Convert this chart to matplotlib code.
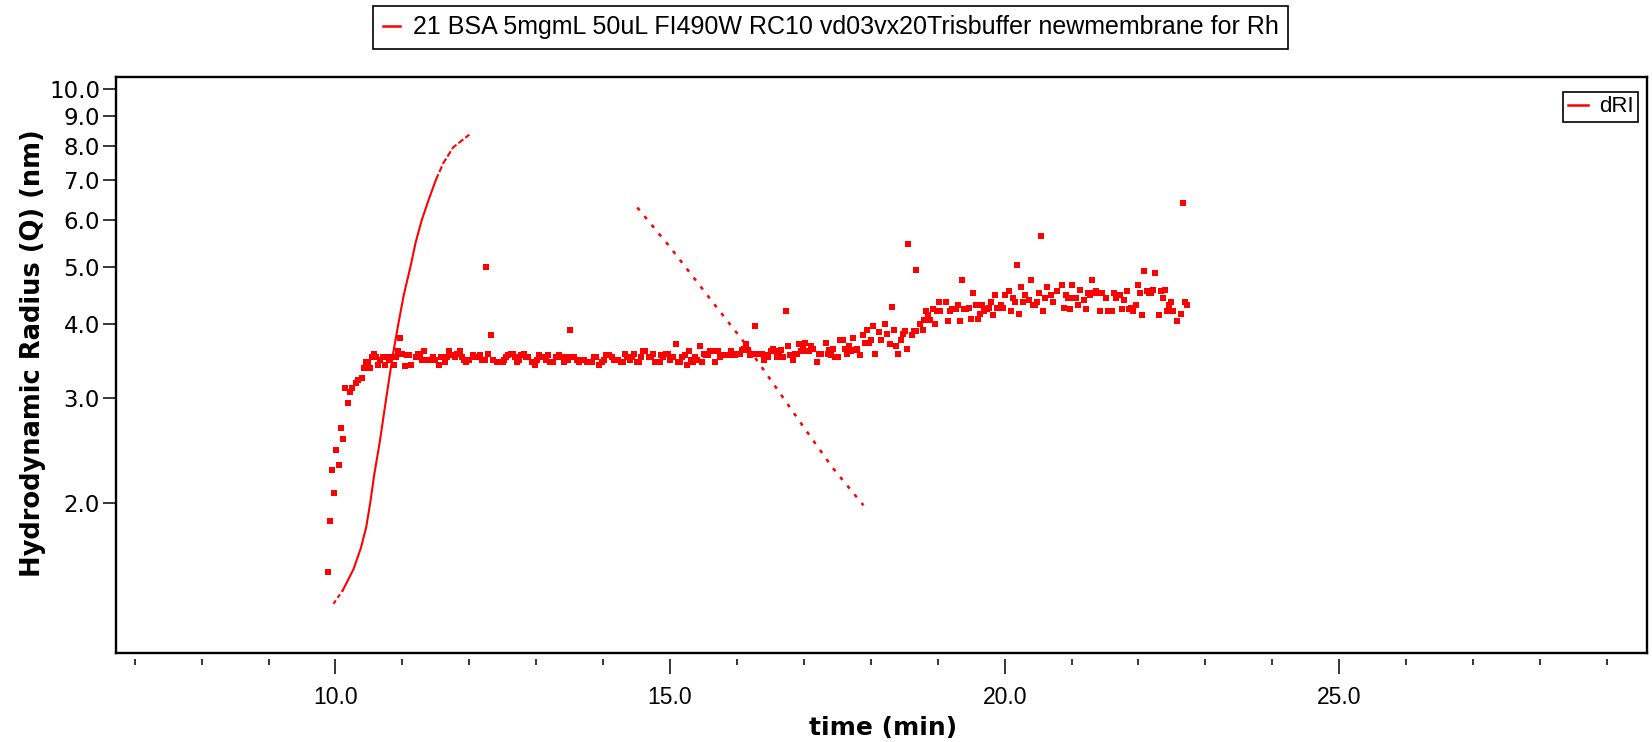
import matplotlib
matplotlib.use("Agg")
import matplotlib.pyplot as plt
from matplotlib.lines import Line2D
from matplotlib.ticker import MultipleLocator, NullLocator, FixedLocator

# Rh (hydrodynamic radius) scatter: time (min), radius (nm)
rh_time = [
    9.89, 9.92, 9.95, 9.98, 10.01, 10.06, 10.09, 10.12, 10.15, 10.18, 10.22, 10.25, 10.31, 10.34,
    10.39, 10.42, 10.45, 10.48, 10.51, 10.55, 10.58, 10.61, 10.64, 10.67, 10.71, 10.74, 10.77, 10.80,
    10.83, 10.88, 10.91, 10.94, 10.97, 11.00, 11.04, 11.07, 11.10, 11.13, 11.21, 11.24, 11.27, 11.30,
    11.33, 11.36, 11.42, 11.46, 11.49, 11.54, 11.57, 11.63, 11.66, 11.70, 11.73, 11.78, 11.82,
    11.86, 11.89, 11.92, 11.95, 11.99, 12.06, 12.09, 12.12, 12.16, 12.19, 12.23, 12.25, 12.28, 12.32,
    12.36, 12.41, 12.45, 12.50, 12.52, 12.55, 12.58, 12.62, 12.66, 12.69, 12.72, 12.75, 12.78, 12.82,
    12.85, 12.88, 12.94, 12.98, 13.01, 13.04, 13.08, 13.11, 13.15, 13.18, 13.21, 13.25, 13.30, 13.34,
    13.38, 13.41, 13.44, 13.48, 13.51, 13.54, 13.57, 13.61, 13.64, 13.68, 13.72, 13.76, 13.80, 13.84,
    13.87, 13.90, 13.94, 13.98, 14.02, 14.05, 14.09, 14.13, 14.16, 14.19, 14.22, 14.26, 14.30, 14.33,
    14.36, 14.40, 14.43, 14.46, 14.50, 14.53, 14.57, 14.60, 14.63, 14.68, 14.71, 14.74, 14.78, 14.81,
    14.85, 14.86, 14.90, 14.94, 14.97, 15.00, 15.04, 15.09, 15.12, 15.15, 15.18, 15.22, 15.25, 15.28,
    15.31, 15.34, 15.37, 15.40, 15.45, 15.48, 15.51, 15.54, 15.57, 15.60, 15.63, 15.67, 15.70, 15.72,
    15.75, 15.78, 15.82, 15.85, 15.88, 15.91, 15.94, 15.97, 16.00, 16.04, 16.07, 16.10, 16.13, 16.16,
    16.19, 16.23, 16.27, 16.30, 16.34, 16.37, 16.40, 16.44, 16.47, 16.51, 16.54, 16.57, 16.60, 16.63,
    16.66, 16.69, 16.73, 16.76, 16.79, 16.84, 16.86, 16.89, 16.92, 16.95, 16.98, 17.02, 17.05, 17.08,
    17.11, 17.14, 17.19, 17.22, 17.26, 17.33, 17.36, 17.38, 17.41, 17.44, 17.47, 17.51, 17.54, 17.58,
    17.62, 17.65, 17.68, 17.71, 17.74, 17.77, 17.80, 17.84, 17.88, 17.91, 17.95, 17.98, 18.01, 18.04,
    18.07, 18.12, 18.15, 18.21, 18.24, 18.28, 18.31, 18.34, 18.37, 18.40, 18.45, 18.48, 18.51, 18.54,
    18.55, 18.61, 18.64, 18.67, 18.68, 18.74, 18.78, 18.80, 18.83, 18.86, 18.89, 18.93, 18.96, 18.99,
    19.02, 19.03, 19.13, 19.16, 19.19, 19.22, 19.27, 19.30, 19.33, 19.36, 19.40, 19.43, 19.46, 19.49,
    19.52, 19.57, 19.60, 19.63, 19.66, 19.69, 19.73, 19.76, 19.79, 19.82, 19.85, 19.89, 19.95, 19.98,
    20.01, 20.06, 20.09, 20.12, 20.15, 20.18, 20.22, 20.25, 20.28, 20.31, 20.36, 20.39, 20.42, 20.45,
    20.48, 20.52, 20.55, 20.58, 20.61, 20.64, 20.69, 20.72, 20.78, 20.85, 20.88, 20.91, 20.94, 20.97,
    21.01, 21.04, 21.07, 21.10, 21.13, 21.18, 21.21, 21.24, 21.27, 21.30, 21.34, 21.37, 21.40, 21.43,
    21.46, 21.51, 21.54, 21.60, 21.63, 21.67, 21.73, 21.76, 21.79, 21.83, 21.86, 21.89, 21.92, 21.97,
    22.00, 22.03, 22.06, 22.09, 22.13, 22.16, 22.19, 22.22, 22.25, 22.30, 22.33, 22.36, 22.39, 22.42,
    22.46, 22.49, 22.52, 22.58, 22.63, 22.66, 22.69, 22.72,
]
rh_nm = [
    1.53, 1.86, 2.27, 2.08, 2.45, 2.32, 2.67, 2.56, 3.12, 2.95, 3.08, 3.12, 3.19, 3.22,
    3.25, 3.37, 3.45, 3.45, 3.37, 3.52, 3.57, 3.52, 3.42, 3.48, 3.52, 3.42, 3.52, 3.48,
    3.52, 3.42, 3.52, 3.60, 3.79, 3.57, 3.40, 3.55, 3.55, 3.42, 3.52, 3.57, 3.52, 3.48,
    3.60, 3.48, 3.48, 3.52, 3.48, 3.42, 3.52, 3.45, 3.52, 3.60, 3.55, 3.52, 3.57,
    3.60, 3.52, 3.48, 3.45, 3.48, 3.55, 3.52, 3.52, 3.55, 3.48, 3.48, 4.99, 3.57, 3.84,
    3.48, 3.45, 3.45, 3.45, 3.48, 3.52, 3.55, 3.57, 3.57, 3.52, 3.45, 3.48, 3.55, 3.57,
    3.52, 3.52, 3.45, 3.41, 3.48, 3.55, 3.52, 3.52, 3.48, 3.55, 3.45, 3.45, 3.52, 3.55,
    3.52, 3.45, 3.52, 3.48, 3.92, 3.52, 3.52, 3.48, 3.45, 3.48, 3.48, 3.45, 3.45, 3.45,
    3.52, 3.52, 3.41, 3.45, 3.48, 3.55, 3.55, 3.52, 3.48, 3.48, 3.48, 3.45, 3.45, 3.57,
    3.52, 3.48, 3.52, 3.57, 3.45, 3.45, 3.52, 3.60, 3.60, 3.52, 3.52, 3.57, 3.45, 3.45,
    3.45, 3.55, 3.52, 3.57, 3.57, 3.48, 3.52, 3.70, 3.45, 3.45, 3.52, 3.55, 3.42, 3.60,
    3.48, 3.45, 3.52, 3.48, 3.68, 3.45, 3.57, 3.55, 3.55, 3.60, 3.60, 3.45, 3.60, 3.60,
    3.52, 3.55, 3.55, 3.55, 3.55, 3.60, 3.55, 3.55, 3.57, 3.57, 3.62, 3.64, 3.70, 3.62,
    3.55, 3.57, 3.97, 3.57, 3.57, 3.57, 3.48, 3.55, 3.52, 3.60, 3.64, 3.60, 3.52, 3.57,
    3.62, 3.52, 4.21, 3.68, 3.55, 3.48, 3.57, 3.57, 3.70, 3.60, 3.67, 3.72, 3.60, 3.60,
    3.68, 3.64, 3.46, 3.57, 3.57, 3.72, 3.57, 3.62, 3.55, 3.63, 3.52, 3.52, 3.76, 3.76,
    3.63, 3.57, 3.68, 3.60, 3.79, 3.62, 3.63, 3.55, 3.84, 3.72, 3.92, 3.72, 3.76, 3.97,
    3.57, 3.89, 3.76, 4.00, 3.86, 3.70, 4.28, 3.92, 3.68, 3.57, 3.76, 3.86, 3.90, 3.63,
    5.46, 3.84, 3.90, 4.94, 3.90, 4.00, 3.92, 4.07, 4.21, 4.15, 4.07, 4.24, 4.00, 4.21,
    4.36, 4.21, 4.36, 4.06, 4.21, 4.24, 4.24, 4.32, 4.06, 4.75, 4.24, 4.24, 4.27, 4.09,
    4.51, 4.32, 4.09, 4.17, 4.32, 4.21, 4.24, 4.27, 4.36, 4.14, 4.48, 4.27, 4.32, 4.27,
    4.48, 4.55, 4.21, 4.43, 4.36, 5.03, 4.17, 4.62, 4.36, 4.48, 4.39, 4.75, 4.32, 4.32,
    4.36, 4.51, 5.63, 4.21, 4.43, 4.62, 4.48, 4.36, 4.55, 4.67, 4.27, 4.48, 4.43, 4.24,
    4.67, 4.43, 4.43, 4.32, 4.58, 4.39, 4.24, 4.51, 4.48, 4.75, 4.51, 4.55, 4.51, 4.21,
    4.51, 4.43, 4.21, 4.21, 4.51, 4.43, 4.48, 4.24, 4.39, 4.55, 4.24, 4.27, 4.21, 4.32,
    4.67, 4.51, 4.14, 4.92, 4.55, 4.51, 4.51, 4.58, 4.88, 4.14, 4.55, 4.43, 4.58, 4.21,
    4.32, 4.36, 4.21, 4.06, 4.17, 6.40, 4.36, 4.32,
]

# dRI trace, rising edge and falling edge
dri_rise_time = [9.97, 10.11, 10.27, 10.38, 10.46, 10.52, 10.58, 10.66, 10.76, 10.85,
                 10.94, 11.02, 11.12, 11.20, 11.29, 11.39, 11.50, 11.61, 11.76, 12.0]
dri_rise_val = [1.35, 1.423, 1.545, 1.677, 1.82, 2.0, 2.233, 2.524, 3.01, 3.51,
                4.01, 4.48, 5.0, 5.51, 6.0, 6.48, 7.01, 7.48, 7.96, 8.36]
dri_fall_time = [14.51, 15.0, 15.63, 16.14, 16.98, 17.43, 17.89]
dri_fall_val = [6.30, 5.40, 4.37, 3.69, 2.70, 2.29, 1.98]

y_ticks = [2.0, 3.0, 4.0, 5.0, 6.0, 7.0, 8.0, 9.0, 10.0]
x_ticks = [10.0, 15.0, 20.0, 25.0]
sample_name = "21 BSA 5mgmL 50uL FI490W RC10 vd03vx20Trisbuffer newmembrane for Rh"

RED = "#ff0000"
arial = ["Liberation Sans", "DejaVu Sans"]

fig = plt.figure(figsize=(16.52, 7.42), dpi=100)
ax = fig.add_axes([0.0702, 0.1199, 0.9268, 0.7763])

ax.plot(rh_time, rh_nm, linestyle="none", marker="s", markersize=4.2,
        markeredgewidth=0, color=RED)

# rising edge: dashed at both ends, solid in the steep middle
ax.plot(dri_rise_time[:2], dri_rise_val[:2], color=RED, lw=1.5, linestyle=(0, (2.0, 1.5)))
ax.plot(dri_rise_time[1:17], dri_rise_val[1:17], color=RED, lw=1.5)
ax.plot(dri_rise_time[16:], dri_rise_val[16:], color=RED, lw=1.5, linestyle=(0, (3.0, 1.2)))
ax.plot(dri_fall_time, dri_fall_val, color=RED, lw=1.8, linestyle=(0, (1.5, 3.0)))

ax.set_yscale("log")
ax.set_xlim(6.72, 29.6)
ax.set_ylim(1.115, 10.46)

ax.yaxis.set_major_locator(FixedLocator(y_ticks))
ax.yaxis.set_minor_locator(NullLocator())
ax.set_yticklabels([f"{v:.1f}" for v in y_ticks])
ax.xaxis.set_major_locator(FixedLocator(x_ticks))
ax.xaxis.set_minor_locator(MultipleLocator(1.0))
ax.set_xticklabels([f"{v:.1f}" for v in x_ticks])

for s in ax.spines.values():
    s.set_linewidth(1.7)
ax.spines["bottom"].set_position(("outward", 4))
ax.spines["bottom"].set_color("none")
ax.plot([0, 1], [0, 0], transform=ax.transAxes, color="black", lw=1.7,
        clip_on=False, solid_capstyle="projecting")

ax.tick_params(axis="y", which="major", direction="out", length=9.5, width=1.1,
               pad=2, labelsize=16.5)
ax.tick_params(axis="x", which="major", direction="out", length=11, width=1.1,
               pad=9, labelsize=16.5)
ax.tick_params(axis="x", which="minor", direction="out", length=4, width=1.1)
for lab in ax.get_xticklabels():
    lab.set_family(arial)

ax.set_ylabel("Hydrodynamic Radius (Q) (nm)", fontsize=18.5, fontweight="bold")
ax.yaxis.set_label_coords(-0.046, 0.52)
fig.text(0.5345, 2 / 742, "time (min)", fontsize=18, fontweight="bold",
         ha="center", va="bottom")

top_leg = fig.legend(handles=[Line2D([], [], color=RED, lw=1.8)], labels=[sample_name],
                     loc="center", bbox_to_anchor=(0.5027, 0.963), frameon=True,
                     fancybox=False, edgecolor="black", framealpha=1,
                     prop={"family": arial, "size": 18}, borderpad=0.38,
                     handlelength=0.7, handletextpad=0.5)
top_leg.get_frame().set_linewidth(1.2)

leg = ax.legend(handles=[Line2D([], [], color=RED, lw=1.8)], labels=["dRI"],
                loc="upper right", bbox_to_anchor=(0.9941, 0.974), borderaxespad=0,
                frameon=True, fancybox=False, edgecolor="black", framealpha=1,
                prop={"family": arial, "size": 16}, borderpad=0.2,
                handlelength=0.9, handletextpad=0.5)
leg.get_frame().set_linewidth(1.2)

fig.savefig("out.png", dpi=100)
